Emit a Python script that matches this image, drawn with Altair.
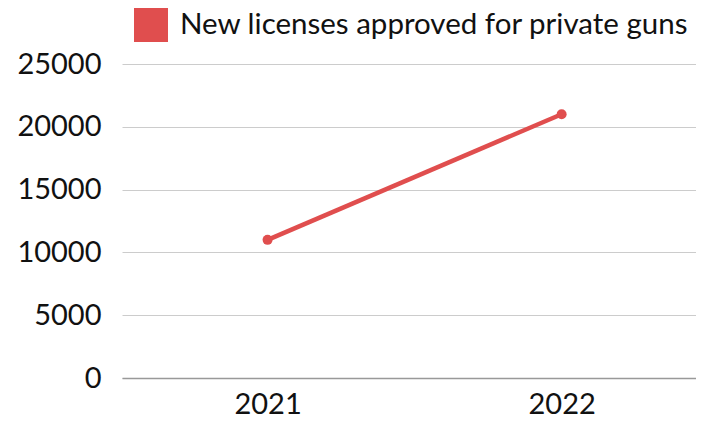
import altair as alt
import pandas as pd

years = ["2021", "2022"]
values = [11000, 21000]
series = ["New licenses approved for private guns"] * 2

df = pd.DataFrame({"year": years, "value": values, "series": series})

color = "#e04e4e"
font = "Lato"

base = alt.Chart(df).encode(
    x=alt.X("year:N", title=None,
            scale=alt.Scale(type="point", padding=0.476, align=0.52),
            axis=alt.Axis(labelAngle=0, labelFontSize=29, labelColor="#111", labelFont=font,
                          domainColor="#999", domainWidth=1.5, ticks=False, labelPadding=12,
                          grid=False)),
    y=alt.Y("value:Q", title=None,
            scale=alt.Scale(domain=[0, 25000]),
            axis=alt.Axis(values=[0, 5000, 10000, 15000, 20000, 25000], format="d",
                          labelFontSize=29,
                          labelColor="#111", labelFont=font, domain=False, ticks=False,
                          labelPadding=21, gridColor="#cccccc", gridWidth=1)),
    color=alt.Color("series:N", title=None,
                    scale=alt.Scale(range=[color]),
                    legend=alt.Legend(orient="none", legendX=12, legendY=-56,
                                      symbolType="square", symbolSize=1156,
                                      symbolFillColor=color, symbolStrokeWidth=0,
                                      labelFontSize=29.5, labelFont=font, labelColor="#111",
                                      labelOffset=12, labelLimit=700)),
)

line = base.mark_line(strokeWidth=4.5)
pts = base.mark_circle(size=100, opacity=1)

chart = (line + pts).properties(
    width=574, height=314,
    padding={"left": 8, "top": 0, "right": 0, "bottom": 0},
).configure_view(stroke=None)

chart.save("out.html", embed_options={"renderer": "svg", "actions": False})
